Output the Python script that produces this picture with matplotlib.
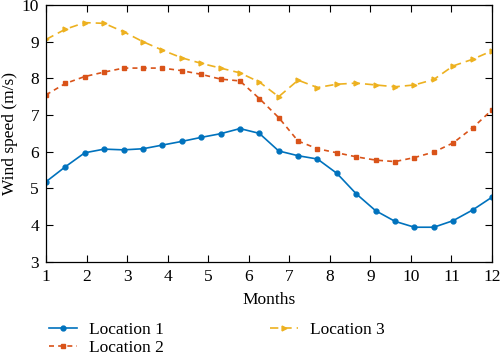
import matplotlib.pyplot as plt
import numpy as np

plt.rcParams['font.family'] = ['Liberation Serif', 'DejaVu Serif']

months = np.linspace(1, 12, 24)
loc1 = [5.18, 5.59, 5.97, 6.07, 6.05, 6.08, 6.18, 6.28, 6.39, 6.49, 6.63, 6.50,
        6.02, 5.89, 5.80, 5.41, 4.85, 4.39, 4.10, 3.94, 3.94, 4.12, 4.41, 4.76]
loc2 = [7.55, 7.86, 8.05, 8.17, 8.28, 8.28, 8.28, 8.21, 8.11, 7.98, 7.93, 7.45,
        6.93, 6.29, 6.08, 5.97, 5.86, 5.77, 5.73, 5.84, 5.99, 6.24, 6.65, 7.14]
loc3 = [9.06, 9.34, 9.52, 9.50, 9.27, 9.00, 8.77, 8.56, 8.41, 8.28, 8.15, 7.90,
        7.50, 7.95, 7.75, 7.84, 7.87, 7.82, 7.77, 7.82, 7.97, 8.34, 8.52, 8.75]
labels = ['Location 1', 'Location 2', 'Location 3']

fig = plt.figure(figsize=(5, 3.58), dpi=100)
ax = fig.add_axes([0.092, 0.269, 0.892, 0.717])

ax.plot(months, loc1, '-o', color='#0072BD', lw=1.2, ms=3.5, label=labels[0])
ax.plot(months, loc2, '--s', color='#D95319', lw=1.2, ms=3.5, dashes=(3, 2.5), label=labels[1])
ax.plot(months, loc3, '-->', color='#EDB120', lw=1.2, ms=3.5, dashes=(5, 3), label=labels[2])

ax.set_xlim(1, 12)
ax.set_ylim(3, 10)
ax.set_xticks(range(1, 13))
ax.set_yticks(range(3, 11))
ax.tick_params(direction='in', top=True, right=True, labelsize=12.5, length=5, pad=5)
ax.set_xlabel('Months', fontsize=12.5, labelpad=5)
ax.set_ylabel('Wind speed (m/s)', fontsize=12.5, labelpad=3)
for s in ax.spines.values():
    s.set_linewidth(0.9)

fig.legend(loc='upper left', bbox_to_anchor=(0.085, 0.12), ncol=2, frameon=False,
           fontsize=12.5, handlelength=1.6, handletextpad=0.7, columnspacing=6.1,
           labelspacing=0.1, borderaxespad=0)

fig.savefig('out.png', dpi=100)
